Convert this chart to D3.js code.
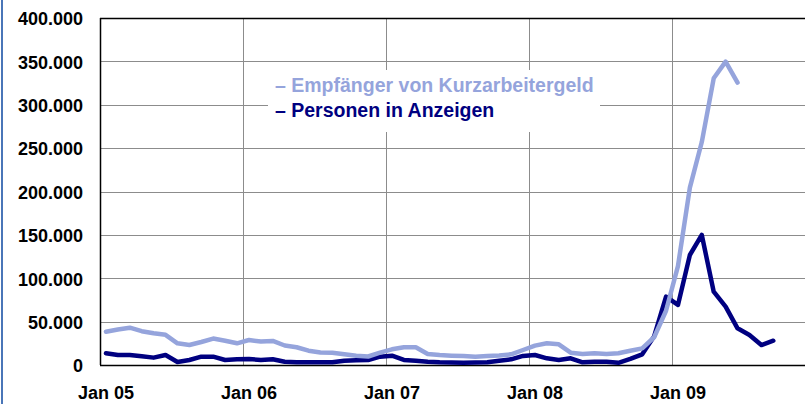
<!DOCTYPE html>
<html>
<head>
<meta charset="utf-8">
<script src="https://cdn.jsdelivr.net/npm/d3@7"></script>
<style>
  body { margin: 0; background: #fff; }
  svg { display: block; font-family: "Liberation Sans", Arial, sans-serif; }
</style>
</head>
<body>
<svg id="chart" width="805" height="404"></svg>
<script>
// Monate Jan 05 .. Dez 09
const jahre = ["05", "06", "07", "08", "09"];
const monate = [];
jahre.forEach(j => { for (let m = 1; m <= 12; m++) monate.push(m + "/" + j); });

// Beschriftungen der x-Achse (jeweils Januar)
const xTicks = ["1/05", "1/06", "1/07", "1/08", "1/09"];
const xLabels = ["Jan 05", "Jan 06", "Jan 07", "Jan 08", "Jan 09"];
const yTicks = [0, 50000, 100000, 150000, 200000, 250000, 300000, 350000, 400000];

// Empfänger von Kurzarbeitergeld (ab Jan 05)
const empfaenger = [
  38400, 41000, 43000, 39000, 36500, 34800, 25000, 23000, 26500, 30500, 28000, 25000,
  28800, 27000, 27700, 22500, 20500, 16500, 14500, 14200, 12300, 10700, 9800, 14200,
  18100, 20400, 20400, 12700, 11500, 10800, 10400, 9600, 10400, 11000, 12300, 17300,
  22300, 25000, 23800, 14200, 12700, 13500, 12700, 13500, 16500, 19200, 32000, 62500,
  114000, 204500, 257000, 330500, 349700, 325500
];

// Personen in Anzeigen (ab Jan 05)
const anzeigen = [
  13500, 11500, 11500, 10000, 8500, 11500, 3500, 5800, 9600, 9600, 5800, 6600,
  6900, 5800, 6600, 3800, 3300, 3100, 3100, 3100, 5000, 5500, 5800, 9600,
  10700, 5800, 5000, 3800, 3100, 2900, 2700, 2900, 3100, 5000, 6500, 10500,
  11500, 7700, 5800, 7700, 3100, 3800, 3800, 2500, 7000, 12300, 33000, 78800,
  69200, 126800, 149900, 84500, 67200, 42300, 34600, 23000, 28000
];

const hell = "#95a4dc";
const dunkel = "#000080";

const svg = d3.select("#chart");
const links = 100, oben = 18, unten = 365;
const monatBreite = 143 / 12;

const x = d3.scaleBand()
  .domain(monate)
  .range([links, links + monate.length * monatBreite]);

const y = d3.scaleLinear()
  .domain([0, 400000])
  .range([unten, oben]);

const de = d3.formatLocale({ decimal: ",", thousands: ".", grouping: [3], currency: ["", " €"] });
const fmt = de.format(",d");

// blauer Rand links
svg.append("rect")
  .attr("x", 1).attr("y", 0)
  .attr("width", 2).attr("height", 404)
  .attr("fill", "#4a76b8");

// horizontale Gitterlinien
svg.append("g")
  .selectAll("line")
  .data(yTicks.filter(v => v > 0 && v < 400000))
  .join("line")
  .attr("x1", links).attr("x2", 805)
  .attr("y1", d => Math.round(y(d)) + 0.5)
  .attr("y2", d => Math.round(y(d)) + 0.5)
  .attr("stroke", "#8c8c8c")
  .attr("stroke-width", 1);

// vertikale Gitterlinien (Jahresgrenzen)
svg.append("g")
  .selectAll("line")
  .data(xTicks.slice(1))
  .join("line")
  .attr("x1", d => Math.round(x(d)) + 0.5)
  .attr("x2", d => Math.round(x(d)) + 0.5)
  .attr("y1", oben).attr("y2", unten)
  .attr("stroke", "#8c8c8c")
  .attr("stroke-width", 1);

// Legende mit weißem Hintergrund
svg.append("rect")
  .attr("x", 268).attr("y", 70)
  .attr("width", 332).attr("height", 62)
  .attr("fill", "#fff");

// Rahmen des Diagramms
svg.append("line")
  .attr("x1", links).attr("x2", 805)
  .attr("y1", oben + 0.5).attr("y2", oben + 0.5)
  .attr("stroke", "#000").attr("stroke-width", 1.5);
svg.append("line")
  .attr("x1", links + 0.5).attr("x2", links + 0.5)
  .attr("y1", oben).attr("y2", unten)
  .attr("stroke", "#000").attr("stroke-width", 1.5);
svg.append("line")
  .attr("x1", links).attr("x2", 805)
  .attr("y1", unten + 0.5).attr("y2", unten + 0.5)
  .attr("stroke", "#000").attr("stroke-width", 1.5);

// Achsen
const yAchse = svg.append("g")
  .attr("transform", `translate(${links},0)`)
  .call(d3.axisLeft(y).tickValues(yTicks).tickFormat(fmt).tickSize(0).tickPadding(17));

const xAchse = svg.append("g")
  .attr("transform", `translate(0,${unten})`)
  .call(d3.axisBottom(x).tickValues(xTicks)
    .tickFormat((d, i) => xLabels[i]).tickSize(0).tickPadding(21));

[yAchse, xAchse].forEach(a => {
  a.select(".domain").remove();
  a.selectAll("text")
    .attr("fill", "#000")
    .style("font-size", "18px")
    .style("font-weight", "bold")
    .style("font-family", "'Liberation Sans', Arial, sans-serif");
});
yAchse.selectAll("text").attr("dy", "0.38em");

// Linien
const linie = d3.line()
  .x((d, i) => x(monate[i]) + x.bandwidth() / 2)
  .y(d => y(d));

svg.append("path")
  .datum(anzeigen)
  .attr("d", linie)
  .attr("fill", "none")
  .attr("stroke", dunkel)
  .attr("stroke-width", 4.5)
  .attr("stroke-linejoin", "round")
  .attr("stroke-linecap", "round");

svg.append("path")
  .datum(empfaenger)
  .attr("d", linie)
  .attr("fill", "none")
  .attr("stroke", hell)
  .attr("stroke-width", 4.5)
  .attr("stroke-linejoin", "round")
  .attr("stroke-linecap", "round");

// Legendentexte
const legende = [
  { text: "\u2013 Empfänger von Kurzarbeitergeld", farbe: hell, y: 92 },
  { text: "\u2013 Personen in Anzeigen", farbe: dunkel, y: 117 }
];
svg.append("g")
  .selectAll("text")
  .data(legende)
  .join("text")
  .attr("x", 275)
  .attr("y", d => d.y)
  .attr("fill", d => d.farbe)
  .style("font-size", "19.5px")
  .style("font-weight", "bold")
  .text(d => d.text);
</script>
</body>
</html>
